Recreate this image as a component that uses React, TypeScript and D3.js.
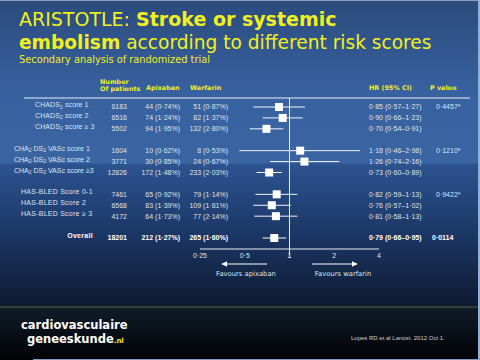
import * as d3 from "d3";

// forest plot data (ARISTOTLE subgroups)
const labels = [
  ["CHADS", "2", " score 1"],
  ["CHADS", "2", " score 2"],
  ["CHADS", "2", " score \u2265 3"],
  ["CHA", "2", " DS", "2", " VASc score 1"],
  ["CHA", "2", " DS", "2", " VASc score 2"],
  ["CHA", "2", " DS", "2", " VASc score \u22653"],
  ["HAS-BLED Score 0-1"],
  ["HAS-BLED Score 2"],
  ["HAS-BLED Score \u2265 3"],
  ["Overall"],
];
const groups = [0, 0, 0, 1, 1, 1, 2, 2, 2, 3];
const rowSlots = [0, 1, 2, 4, 5, 6, 8, 9, 10, 12];
const patients = ["6183", "6516", "5502", "1604", "3771", "12826", "7461", "6568", "4172", "18201"];
const apixaban = ["44 (0\u00b774%)", "74 (1\u00b724%)", "94 (1\u00b795%)", "10 (0\u00b762%)", "30 (0\u00b785%)", "172 (1\u00b748%)", "65 (0\u00b792%)", "83 (1\u00b739%)", "64 (1\u00b773%)", "212 (1\u00b727%)"];
const warfarin = ["51 (0\u00b787%)", "82 (1\u00b737%)", "132 (2\u00b780%)", "8 (0\u00b753%)", "24 (0\u00b767%)", "233 (2\u00b703%)", "79 (1\u00b714%)", "109 (1\u00b781%)", "77 (2\u00b714%)", "265 (1\u00b760%)"];
const hr = [0.85, 0.9, 0.7, 1.18, 1.26, 0.73, 0.82, 0.76, 0.81, 0.79];
const ciLow = [0.57, 0.66, 0.54, 0.46, 0.74, 0.6, 0.59, 0.57, 0.58, 0.66];
const ciHigh = [1.27, 1.23, 0.91, 2.98, 2.16, 0.89, 1.13, 1.02, 1.13, 0.95];
const pValues = ["0\u00b74457*", "", "", "0\u00b71210*", "", "", "0\u00b79422*", "", "", "0\u00b70114"];
const ticks = [0.25, 0.5, 1, 2, 4];
const tickLabels = ["0\u00b725", "0\u00b75", "1", "2", "4"];

const fmt = (v: number) => v.toFixed(2).replace(".", "\u00b7");

// label start + letter spacing per group (CHADS2, CHA2DS2-VASc, HAS-BLED); overall is right aligned
const groupX = [35, 14, 21, 93];
const groupSpacing = [0.1, 0, 0.25, 0.3];

export default function App() {
  const W = 480;
  const H = 360;
  const x = d3.scaleLog().domain([0.25, 4]).range([200, 379]);
  const y = d3.scaleLinear().domain([0, 12]).range([107, 238]);
  const txt = "#dde4ee";
  const yellow = "#f0f020";
  const sans = "'Liberation Sans', Arial, sans-serif";
  const verd = "'DejaVu Sans', Verdana, sans-serif";
  const axisY = 249;

  return (
    <svg width={W} height={H} style={{ position: "absolute", left: 0, top: 0 }}>
      <defs>
        <linearGradient id="bg" x1="0" y1="0" x2="0" y2="1">
          <stop offset="0" stopColor="#2b4b7c" />
          <stop offset="0.3" stopColor="#3861a0" />
          <stop offset="0.53" stopColor="#3a64a2" />
          <stop offset="0.535" stopColor="#2d5390" />
          <stop offset="0.75" stopColor="#1c3868" />
          <stop offset="1" stopColor="#0e1a30" />
        </linearGradient>
        <linearGradient id="foot" x1="0" y1="0" x2="0" y2="1">
          <stop offset="0" stopColor="#111c2a" />
          <stop offset="1" stopColor="#010203" />
        </linearGradient>
        <marker id="ah" viewBox="0 0 10 10" refX="9" refY="5" markerWidth="5" markerHeight="5" orient="auto">
          <path d="M0,0 L10,5 L0,10 z" fill="#fff" />
        </marker>
      </defs>
      <rect x={0} y={0} width={W} height={307} fill="url(#bg)" />
      <rect x={0} y={307} width={W} height={53} fill="url(#foot)" />
      <line x1={0} x2={W} y1={307} y2={307} stroke="#55663a" strokeWidth={1} />
      <line x1={0} x2={W} y1={0.5} y2={0.5} stroke="#8aa0c0" strokeWidth={1} />
      <line x1={479} x2={479} y1={0} y2={H} stroke="#8fb0d8" strokeWidth={2} />
      <line x1={33} x2={W} y1={359.5} y2={359.5} stroke="#7a9cc8" strokeWidth={1} />

      {/* title */}
      <text x={19} y={26} fill={yellow} fontFamily={verd} fontSize={19}>
        ARISTOTLE: <tspan fontWeight="bold">Stroke or systemic</tspan>
      </text>
      <text x={19} y={49} fill={yellow} fontFamily={verd} fontSize={18.6}>
        <tspan fontWeight="bold">embolism</tspan> according to different risk scores
      </text>
      <text x={19} y={63} fill={yellow} fontFamily={verd} fontSize={9.8}>
        Secondary analysis of randomized trial
      </text>

      {/* headers */}
      <g fill={yellow} fontFamily={verd} fontSize={6.4} fontWeight="bold">
        <text x={100} y={83.5}>Number</text>
        <text x={100} y={90.5}>Of patients</text>
        <text x={146} y={89.5}>Apixaban</text>
        <text x={190} y={89.5}>Warfarin</text>
        <text x={369} y={89.5}>HR (95% CI)</text>
        <text x={430} y={89.5}>P value</text>
      </g>
      <line x1={24} x2={470} y1={98} y2={98} stroke="#e8eef6" strokeWidth={1} />

      {/* vertical reference line at HR = 1 */}
      <line x1={x(1)} x2={x(1)} y1={98} y2={axisY + 4} stroke="#e8eef6" strokeWidth={1} />

      {/* rows */}
      {labels.map((parts, i) => {
        const yy = y(rowSlots[i]);
        const overall = i === labels.length - 1;
        const fill = overall ? "#ffffff" : txt;
        const fw = overall ? "bold" : "normal";
        return (
          <g key={i} fontFamily={sans} fontSize={7} fill={fill} fontWeight={fw}>
            <text x={groupX[groups[i]]} y={yy} dy="0.35em" textAnchor={overall ? "end" : "start"}
              letterSpacing={groupSpacing[groups[i]]}>
              {parts.map((p, j) =>
                j % 2 === 1 ? (
                  <tspan key={j} fontSize={5} dy="1.5">{p}</tspan>
                ) : (
                  <tspan key={j} dy={j > 0 ? "-1.5" : 0}>{p}</tspan>
                )
              )}
            </text>
            <text x={127} y={yy} dy="0.35em" textAnchor="end">{patients[i]}</text>
            <text x={180} y={yy} dy="0.35em" textAnchor="end">{apixaban[i]}</text>
            <text x={228} y={yy} dy="0.35em" textAnchor="end">{warfarin[i]}</text>
            <text x={369} y={yy} dy="0.35em">
              {`${fmt(hr[i])} (${fmt(ciLow[i])}\u2013${fmt(ciHigh[i])})`}
            </text>
            <text x={overall ? 432 : 436} y={yy} dy="0.35em">{pValues[i]}</text>
            <line x1={x(ciLow[i])} x2={x(ciHigh[i])} y1={yy} y2={yy} stroke="#f4f6fa" strokeWidth={1} />
            <rect x={x(hr[i]) - 4} y={yy - 4} width={8} height={8} fill="#ffffff" />
          </g>
        );
      })}

      {/* axis */}
      <line x1={x(0.25)} x2={x(4)} y1={axisY} y2={axisY} stroke="#e8eef6" strokeWidth={1} />
      {ticks.map((t, i) => (
        <text key={t} x={x(t)} y={256} dy="0.35em" textAnchor="middle" fill={txt}
          fontFamily={sans} fontSize={7} fontWeight={t === 1 ? "bold" : "normal"}>
          {tickLabels[i]}
        </text>
      ))}
      <line x1={267} x2={222} y1={264} y2={264} stroke="#fff" strokeWidth={1.2} markerEnd="url(#ah)" />
      <line x1={312} x2={357} y1={264} y2={264} stroke="#fff" strokeWidth={1.2} markerEnd="url(#ah)" />
      <text x={246} y={274} dy="0.35em" textAnchor="middle" fill={txt} fontFamily={verd} fontSize={6.8}>
        Favours apixaban
      </text>
      <text x={343} y={274} dy="0.35em" textAnchor="middle" fill={txt} fontFamily={verd} fontSize={6.8}>
        Favours warfarin
      </text>

      {/* footer */}
      <text x={21} y={329} fill="#fff" fontFamily={verd} fontWeight="bold" fontSize={11.5}>cardiovasculaire</text>
      <text x={27} y={343} fill="#fff" fontFamily={verd} fontWeight="bold" fontSize={11.5}>
        geneeskunde<tspan fill={yellow} fontSize={7}>.nl</tspan>
      </text>
      <text x={351} y={338} dy="0.35em" fill="#c8d0dc" fontFamily={sans} fontSize={6}>
        Lopes RD et al Lancet. 2012 Oct 1.
      </text>
    </svg>
  );
}
